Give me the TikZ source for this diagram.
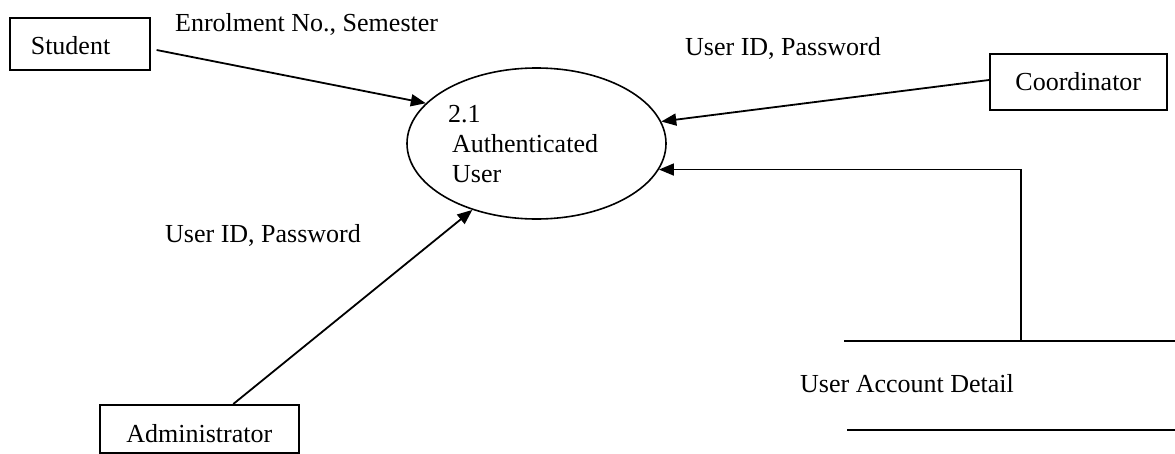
\documentclass[tikz,border=0pt]{standalone}
\usepackage{fontspec}
\setmainfont{Liberation Serif}
\usetikzlibrary{arrows.meta,shapes.geometric}
\begin{document}
\begin{tikzpicture}[x=1pt,y=-1pt,
  every node/.style={font=\fontsize{26}{30}\selectfont},
  entity/.style={draw,line width=1.6pt,inner ysep=0pt},
  flow/.style={line width=1.8pt,-{Triangle[length=15pt,width=12pt]}},
  plain/.style={line width=1.8pt},
  lbl/.style={anchor=base west,inner sep=0pt}]
\useasboundingbox (0,0) rectangle (1175,453);
% process
\node[draw,ellipse,line width=1.6pt,minimum width=259pt,minimum height=151pt,inner sep=0pt] (auth) at (536.5,143.5) {};
\node[lbl] (pnum) at (448,122) {2.1};
\node[lbl] (pname1) at (452,152) {Authenticated};
\node[lbl] (pname2) at (452,182) {User};
% entities
\node[entity,anchor=north west,text width=98pt,inner xsep=21pt,align=left,text height=37pt,text depth=15pt] (stu) at (9,17) {Student};
\node[entity,anchor=north west,minimum width=177pt,inner xsep=0pt,text height=37pt,text depth=19pt] (coord) at (989,53) {Coordinator};
\node[entity,anchor=north west,minimum width=199pt,inner xsep=0pt,text height=38pt,text depth=10pt] (admin) at (99,404) {Administrator};
% data store
\coordinate (st1) at (844,341);
\coordinate (st2) at (1175,341);
\coordinate (sb1) at (847,430);
\coordinate (sb2) at (1175,430);
\coordinate (stv) at (1021,341);
\draw[plain] (st1) -- (st2);
\draw[plain] (sb1) -- (sb2);
\node[lbl] (store) at (800,392) {User Account Detail};
% flows
\draw[flow] ([yshift=-4pt]stu.north east) ++(6,29) coordinate (s0) -- (auth.160);
\draw[flow] ([yshift=-27pt]coord.north west) -- (auth.10.6);
\draw[flow] (stv) |- (auth.348.3);
\draw[flow] ([xshift=34pt]admin.north) -- (auth.226.7);
% flow labels
\node[lbl] (l1) at (175,31) {Enrolment No., Semester};
\node[lbl] (l2) at (685,55) {User ID, Password};
\node[lbl] (l3) at (165,242) {User ID, Password};
\end{tikzpicture}
\end{document}
